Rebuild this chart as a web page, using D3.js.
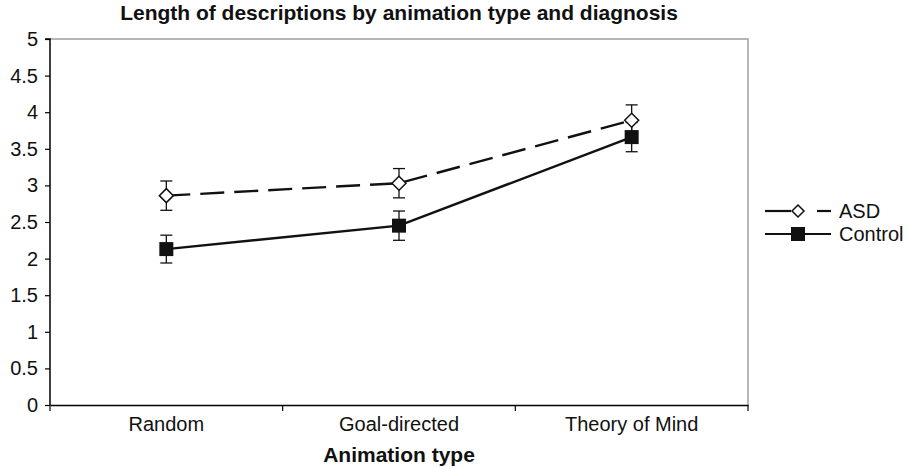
<!DOCTYPE html>
<html><head><meta charset="utf-8">
<script src="https://cdn.jsdelivr.net/npm/d3@7"></script>
<style>body{margin:0;background:#fff}svg{display:block;font-family:"Liberation Sans",Arial,sans-serif}</style>
</head><body><svg id="c" width="908" height="468"></svg>
<script>
const categories = ["Random", "Goal-directed", "Theory of Mind"];
const asdValues = [2.86, 3.03, 3.89];
const asdErrors = [0.2, 0.2, 0.21];
const controlValues = [2.13, 2.45, 3.66];
const controlErrors = [0.19, 0.2, 0.2];
const yTicks = [0, 0.5, 1, 1.5, 2, 2.5, 3, 3.5, 4, 4.5, 5];
const seriesNames = ["ASD", "Control"];

const svg = d3.select("#c");
const m = {l: 50, r: 160, t: 39, b: 63};
const W = 908, H = 468;
const FS = 20;
const x = d3.scaleBand().domain(categories).range([m.l, W - m.r]);
const y = d3.scaleLinear().domain([0, 5]).range([H - m.b, m.t]);

// plot border top/right
svg.append("path").attr("d", `M${m.l},${m.t}H${W - m.r}V${H - m.b}`)
  .attr("fill", "none").attr("stroke", "#a0a0a0").attr("stroke-width", 1.5);

// y axis
const ya = svg.append("g").attr("transform", `translate(${m.l},0)`)
  .call(d3.axisLeft(y).tickValues(yTicks).tickSize(5).tickPadding(7).tickFormat(d3.format("")));
ya.select(".domain").attr("stroke", "#000").attr("stroke-width", 1.5).attr("d", `M-5,${y(5)}H0V${y(0)}`);
ya.selectAll(".tick line").attr("stroke", "#000").attr("stroke-width", 1.2);
ya.selectAll("text").attr("font-size", FS).attr("fill", "#111").attr("font-family", "Liberation Sans, Arial, sans-serif");

// x axis
const xa = svg.append("g").attr("transform", `translate(0,${y(0)})`)
  .call(d3.axisBottom(x).tickSize(0).tickPadding(12));
xa.select(".domain").attr("stroke", "#000").attr("stroke-width", 1.5);
xa.selectAll("text").attr("font-size", FS).attr("fill", "#111").attr("font-family", "Liberation Sans, Arial, sans-serif");
const bounds = categories.map(c => x(c)).concat([x(categories[categories.length - 1]) + x.bandwidth()]);
xa.selectAll(".bnd").data(bounds).enter().append("line")
  .attr("x1", d => d).attr("x2", d => d).attr("y1", 0).attr("y2", 6)
  .attr("stroke", "#000").attr("stroke-width", 1.2);

const cx = c => x(c) + x.bandwidth() / 2;
const line = d3.line().x(d => cx(d.c)).y(d => y(d.v));
const asd = categories.map((c, i) => ({c, v: asdValues[i], e: asdErrors[i]}));
const ctl = categories.map((c, i) => ({c, v: controlValues[i], e: controlErrors[i]}));

svg.append("path").datum(asd).attr("d", line).attr("fill", "none")
  .attr("stroke", "#111").attr("stroke-width", 2.4).attr("stroke-dasharray", "24,10");
svg.append("path").datum(ctl).attr("d", line).attr("fill", "none")
  .attr("stroke", "#111").attr("stroke-width", 2.4);

function errorBars(data) {
  const g = svg.append("g").attr("stroke", "#111").attr("stroke-width", 1.3);
  data.forEach(d => {
    const X = cx(d.c);
    g.append("line").attr("x1", X).attr("x2", X).attr("y1", y(d.v + d.e)).attr("y2", y(d.v - d.e));
    [d.v + d.e, d.v - d.e].forEach(v => g.append("line").attr("x1", X - 6).attr("x2", X + 6).attr("y1", y(v)).attr("y2", y(v)));
  });
}
errorBars(asd);
errorBars(ctl);

function diamond(g, X, Y, r) {
  g.append("path").attr("d", `M${X},${Y - r}L${X + r},${Y}L${X},${Y + r}L${X - r},${Y}Z`)
    .attr("fill", "#fff").attr("stroke", "#111").attr("stroke-width", 1.5);
}
function square(g, X, Y, s) {
  g.append("rect").attr("x", X - s / 2).attr("y", Y - s / 2).attr("width", s).attr("height", s).attr("fill", "#111");
}
const mk = svg.append("g");
asd.forEach(d => diamond(mk, cx(d.c), y(d.v), 7));
ctl.forEach(d => square(mk, cx(d.c), y(d.v), 14));

// legend
const lg = svg.append("g");
const ly = [211, 234];
const lx0 = 765, lx1 = 831, lmx = 798;
lg.append("line").attr("x1", lx0).attr("x2", lmx - 7).attr("y1", ly[0]).attr("y2", ly[0]).attr("stroke", "#111").attr("stroke-width", 2.2);
lg.append("line").attr("x1", 817).attr("x2", lx1).attr("y1", ly[0]).attr("y2", ly[0]).attr("stroke", "#111").attr("stroke-width", 2.2);
diamond(lg, lmx, ly[0], 6);
lg.append("line").attr("x1", lx0).attr("x2", lx1).attr("y1", ly[1]).attr("y2", ly[1]).attr("stroke", "#111").attr("stroke-width", 2.2);
square(lg, lmx, ly[1], 14);
lg.selectAll("text").data(seriesNames).enter().append("text")
  .attr("x", 839).attr("y", (d, i) => ly[i]).attr("dy", "0.35em")
  .attr("font-size", FS).attr("fill", "#111").text(d => d);

// titles
svg.append("text").attr("x", 399).attr("y", 20).attr("text-anchor", "middle")
  .attr("font-size", 21).attr("font-weight", "bold").attr("fill", "#111")
  .text("Length of descriptions by animation type and diagnosis");
svg.append("text").attr("x", 399).attr("y", 462).attr("text-anchor", "middle")
  .attr("font-size", 21).attr("font-weight", "bold").attr("fill", "#111")
  .text("Animation type");
</script></body></html>
